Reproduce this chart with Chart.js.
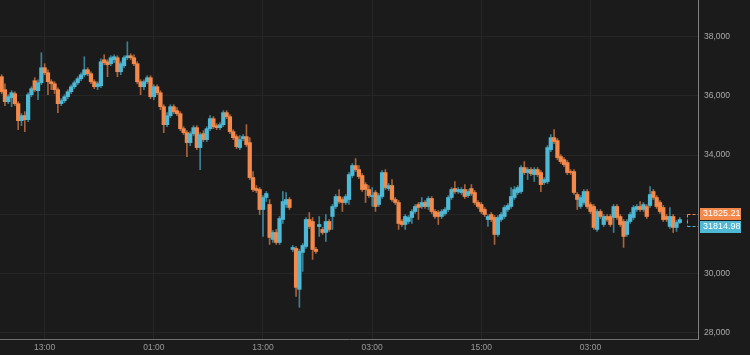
<!DOCTYPE html>
<html><head><meta charset="utf-8">
<script src="https://cdn.jsdelivr.net/npm/chart.js@4.4.0/dist/chart.umd.min.js"></script>
<style>html,body{margin:0;padding:0;background:#1b1b1b;}canvas{display:block}</style>
</head><body>
<canvas id="c" width="750" height="355"></canvas>
<script>
const opens=[36649,36210,35804,35940,36075,35737,35163,35332,35196,36041,
36514,36176,36446,36953,36784,36480,36412,36210,35737,35838,
35973,36142,36311,36446,36581,36716,36885,36750,36480,36311,
36345,37223,37156,37088,37223,37291,36818,37021,37291,37358,
37291,37088,36480,36311,36480,36615,35973,36311,36108,35636,
35027,35332,35636,35500,35399,34892,34757,34419,34723,34926,
34251,34723,34521,34892,35230,34994,34926,35027,35433,35298,
34791,34622,34251,34555,34622,34419,33237,32866,32832,32156,
32562,32325,31143,31379,31041,31818,32325,32494,30805,30839,
29454,30704,30906,31818,31751,30805,31582,31481,31379,31751,
31920,32258,32595,32494,32393,32494,33305,33643,33507,33305,
33001,32832,32595,32730,32325,32595,33406,32866,32967,32494,
32393,31751,31649,31751,31886,32089,32325,32258,32393,32258,
32528,32089,32055,31920,32021,32156,32562,32866,32764,32730,
32832,32629,32866,32730,32393,32325,32156,31818,31987,31886,
31312,31818,31920,32156,32258,32562,32730,32764,33575,33406,
33507,33338,33507,33406,33068,33102,34183,34588,34487,33947,
33845,33744,33440,33440,32663,32258,32393,32764,32325,32258,
31481,32089,31649,31920,31920,31886,32258,31920,31751,31312,
31751,31886,32156,32258,32156,32258,32291,32764,32562,32393,
32224,31920,31582,31920,31548,31717];
const highs=[36716,36412,36041,36176,36142,35804,35399,35467,36108,36311,
36615,36548,37460,37088,36885,36548,36480,36277,35906,36041,
36210,36379,36514,36649,36784,37325,36953,36818,36548,36480,
37257,37392,37223,37358,37392,37358,37156,37358,37831,37426,
37392,37156,36548,36548,36683,36683,36379,36379,36176,35703,
35433,35703,35703,35602,35467,34960,34825,34791,34994,34994,
34757,34825,34960,35332,35298,35061,35095,35500,35500,35365,
34859,34690,34656,34690,35027,34588,33440,32967,32899,32629,
32764,32494,31447,31481,31920,32764,32730,32562,30940,30906,
30805,31008,31886,32055,31886,30873,31920,31548,31987,31818,
32325,32663,32832,32562,32663,33406,33710,33879,33643,33372,
33068,32967,32899,32798,32697,33474,33507,33034,33170,32562,
32460,31818,31987,31954,32156,32325,32393,32562,32460,32595,
32595,32156,32123,32156,32224,32629,32899,33102,32899,32899,
33001,32832,33001,32798,32460,32393,32224,31987,32055,31954,
31954,32055,32291,32359,32899,32933,32967,33643,33778,33575,
33575,33575,33575,33474,33237,34318,34690,34859,34555,34014,
33913,33811,33507,33507,32730,32629,32832,32832,32393,32325,
32156,32156,31987,31987,31987,32325,32325,31987,31818,31818,
32055,32291,32325,32426,32393,32325,32933,32832,32629,32460,
32291,31987,32224,31987,31785,31886];
const lows=[36075,35669,35737,35636,35669,34859,34994,34791,35129,35973,
36142,35872,36379,36716,36041,36210,36075,35433,35669,35771,
35906,36075,36244,36379,36514,36649,36683,36412,36244,36210,
36277,37054,36649,37021,37122,36649,36716,36953,37223,37223,
37021,36412,36041,36210,36412,35906,35872,36041,35534,34757,
34960,35264,35399,35332,34825,34690,33947,34318,34656,34183,
33507,34453,34453,34825,34892,34859,34859,34960,35230,34723,
34521,34217,34183,34487,34284,33170,32764,32730,31987,31244,
32426,30974,31041,30974,30974,31683,32224,32156,30737,29217,
28846,30062,30839,31514,30467,30670,31244,31312,31075,31413,
31481,32190,32359,32089,32325,32325,33237,33440,33203,32764,
32393,32562,32258,32089,32258,32528,32832,32798,32426,32325,
31481,31582,31481,31683,31683,32021,31818,32190,32190,32156,
32021,31852,31649,31852,31954,32089,32494,32697,32697,32663,
32528,32562,32629,32325,32190,32021,31920,31582,31751,30974,
31244,31751,31852,32089,32190,32494,32663,32697,33338,33170,
33305,33102,33271,32764,33001,33034,34115,34386,33845,33710,
33609,33338,33338,32663,32156,32190,32325,32190,32021,31481,
31413,31852,31582,31751,31582,31379,31818,31582,30873,31244,
31683,31818,32089,32089,32089,31852,32224,32494,32190,32021,
31751,31751,31514,31379,31413,31683];
const closes=[36142,35804,35973,36108,35737,35163,35332,35196,36041,36244,
36210,36446,36953,36784,36480,36412,36210,35737,35838,35973,
36142,36311,36446,36581,36716,36885,36750,36480,36311,36412,
37156,37122,37054,37291,37325,36818,37088,37291,37358,37291,
37088,36480,36311,36480,36615,35973,36311,36108,35636,35027,
35332,35636,35467,35399,34892,34757,34419,34723,34926,34251,
34690,34521,34892,35230,34960,34926,35027,35433,35298,34791,
34588,34284,34521,34622,34352,33237,32832,32798,32156,32562,
32697,31210,31379,31041,31852,32426,32494,32224,30873,29521,
30737,30940,31818,31582,30805,30737,31649,31379,31751,31481,
32258,32595,32426,32393,32595,33338,33643,33507,33271,32832,
32832,32629,32629,32258,32629,33406,32899,32967,32494,32393,
31683,31649,31920,31886,32089,32258,32224,32393,32258,32528,
32089,31920,31920,32089,32156,32562,32832,32764,32832,32832,
32595,32764,32697,32393,32258,32089,31987,31920,31818,31312,
31886,31987,32224,32291,32595,32832,32899,33575,33406,33507,
33372,33507,33338,33001,33170,34251,34588,34453,33913,33778,
33676,33406,33406,32730,32494,32562,32764,32258,32089,31548,
32089,31920,31920,31818,31649,32258,31886,31649,31244,31751,
31987,32224,32258,32156,32325,31920,32663,32562,32258,32089,
31818,31818,31920,31548,31717,31814.98];
const slotCount=211;
const tickIndex=[13,46,79,112,145,178];
const tickText=['13:00','01:00','13:00','03:00','15:00','03:00'];
const yTicks=[28000,30000,32000,34000,36000,38000];
const lastPrices=[31825.21,31814.98];

const UP='#4fb8d4', DOWN='#f38a4b';
const UPW='rgba(79,184,212,0.65)', DOWNW='rgba(243,138,75,0.65)';
const FONT='"Liberation Sans", Arial, sans-serif';
const labels=Array.from({length:slotCount},(_,i)=>i);
const bodies=opens.map((o,i)=>[o,closes[i]]);
const wicks=lows.map((l,i)=>[l,highs[i]]);
const isUp=i=>closes[i]>=opens[i];

const bg={id:'bg',beforeDraw(ch){const c=ch.ctx;c.save();c.fillStyle='#1b1b1b';c.fillRect(0,0,ch.width,ch.height);c.restore();}};
const tags={id:'tags',afterDraw(ch){
  const c=ch.ctx,a=ch.chartArea,x=ch.scales.x,y=ch.scales.y;
  const p=Math.round(y.getPixelForValue(lastPrices[1]));
  const yO=p-6+0.5, yB=p+6+0.5;
  const x0=Math.round(x.getPixelForValue(closes.length+1))+1.5;
  c.save();
  c.lineWidth=1;c.setLineDash([3,2]);
  c.strokeStyle=DOWN;c.beginPath();c.moveTo(x0,yO);c.lineTo(a.right,yO);c.moveTo(x0,yO);c.lineTo(x0,p+0.5);c.stroke();
  c.strokeStyle=UP;c.beginPath();c.moveTo(x0,yB);c.lineTo(a.right,yB);c.moveTo(x0,p+0.5);c.lineTo(x0,yB);c.stroke();
  c.setLineDash([]);
  const bx=a.right+2,bw=41,bh=12;
  c.fillStyle=DOWN;c.fillRect(bx,p-12,bw,bh);
  c.fillStyle=UP;c.fillRect(bx,p+1,bw,bh);
  c.fillStyle='#ffffff';c.font='9px '+FONT;c.textBaseline='middle';c.textAlign='left';
  c.fillText(lastPrices[0].toFixed(2),bx+3,p-6);
  c.fillText(lastPrices[1].toFixed(2),bx+3,p+7);
  c.restore();
}};

new Chart(document.getElementById('c'),{
  type:'bar',
  data:{labels,datasets:[
    {data:bodies,grouped:false,order:0,barThickness:3.6,minBarLength:1,borderWidth:0,
     backgroundColor:ctx=>isUp(ctx.dataIndex)?UP:DOWN},
    {data:wicks,grouped:false,order:1,barThickness:1,borderWidth:0,
     backgroundColor:ctx=>isUp(ctx.dataIndex)?UPW:DOWNW}
  ]},
  options:{
    responsive:false,devicePixelRatio:1,animation:false,
    layout:{padding:0},
    plugins:{legend:{display:false},tooltip:{enabled:false}},
    scales:{
      x:{
        grid:{offset:false,color:'#262626',drawTicks:false},
        border:{color:'#707070'},
        ticks:{color:'#9a9a9a',font:{size:8.5,family:FONT},maxRotation:0,autoSkip:false,padding:4,
          callback:v=>{const k=tickIndex.indexOf(v);return k>=0?tickText[k]:'';}},
        afterBuildTicks:s=>{s.ticks=tickIndex.map(v=>({value:v}));},
        afterFit:s=>{s.height=16;s.paddingLeft=0;s.paddingRight=0;s.paddingTop=0;s.paddingBottom=0;}
      },
      y:{
        position:'right',min:27775,max:39245,
        grid:{color:'#262626',drawTicks:false},
        border:{color:'#808080'},
        ticks:{color:'#ababab',font:{size:8.5,family:FONT},padding:6,
          callback:v=>v.toLocaleString('en-US')},
        afterBuildTicks:s=>{s.ticks=yTicks.map(v=>({value:v}));},
        afterFit:s=>{s.width=52;s.paddingTop=0;s.paddingBottom=0;s.paddingLeft=0;s.paddingRight=0;}
      }
    }
  },
  plugins:[bg,tags]
});
</script>
</body></html>
